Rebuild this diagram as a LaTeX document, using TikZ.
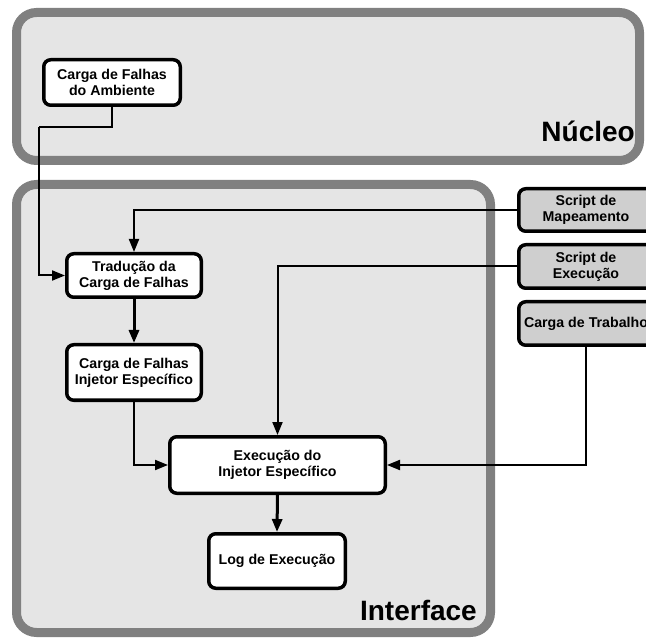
\documentclass[tikz,border=0pt]{standalone}
\usepackage{fontspec}
\setmainfont{Liberation Sans}
\usetikzlibrary{arrows.meta}
\begin{document}
\begin{tikzpicture}[x=1pt,y=-1pt,
  container/.style={draw=black!50, fill=black!10, line width=9pt, rounded corners=20pt},
  block/.style={draw=black, line width=3.5pt, rounded corners=7pt, fill=white, align=center,
    inner sep=0pt, font=\fontsize{14.2}{15.8}\selectfont\bfseries},
  extblock/.style={block, fill=black!19},
  conn/.style={draw=black, line width=2pt, -{Triangle[length=13pt,width=10pt]}},
  thickconn/.style={conn, line width=3pt},
  plain/.style={draw=black, line width=2pt},
  title/.style={font=\fontsize{28}{30}\selectfont\bfseries, inner sep=0pt}]
  \clip (0,0) rectangle (646,639);

  % layer containers
  \draw[container] (16.5,12.5) rectangle (639.5,160.5);
  \draw[container] (16.5,184.5) rectangle (490.5,632.5);
  \node[title, anchor=base east] (nucleo) at (635,142) {Núcleo};
  \node[title, anchor=base east] (interface) at (477,620) {Interface};

  % processing blocks
  \node[block, minimum width=136.5pt, minimum height=45.5pt] (amb) at (112,82.5) {Carga de Falhas\\do Ambiente};
  \node[block, minimum width=134.5pt, minimum height=43.5pt] (trad) at (134,275.5) {Tradução da\\Carga de Falhas};
  \node[block, minimum width=134.5pt, minimum height=55.5pt] (inj) at (134,372.5) {Carga de Falhas\\Injetor Específico};
  \node[block, minimum width=215.5pt, minimum height=56.5pt] (exe) at (277.5,465) {Execução do\\Injetor Específico};
  \node[block, minimum width=136.5pt, minimum height=54.5pt] (log) at (277,561) {Log de Execução};

  % external inputs
  \node[extblock, minimum width=134.5pt, minimum height=42.5pt] (map) at (586,210) {Script de\\Mapeamento};
  \node[extblock, minimum width=134.5pt, minimum height=43.5pt] (sex) at (586,266.5) {Script de\\Execução};
  \node[extblock, minimum width=134.5pt, minimum height=43.5pt] (trab) at (586,323.5) {Carga de Trabalho};

  % connectors
  \coordinate (k1) at (39,127);
  \draw[plain] (amb.south) |- (k1);
  \draw[conn] (k1) |- (trad.west);
  \draw[conn] (map.west) -| (trad.north);
  \draw[thickconn] (trad.south) -- (inj.north);
  \draw[conn] (sex.west) -| (exe.north);
  \draw[conn] (inj.south) |- (exe.west);
  \draw[conn] (trab.south) |- (exe.east);
  \draw[thickconn] (exe.south) -- (log.north);
\end{tikzpicture}
\end{document}
